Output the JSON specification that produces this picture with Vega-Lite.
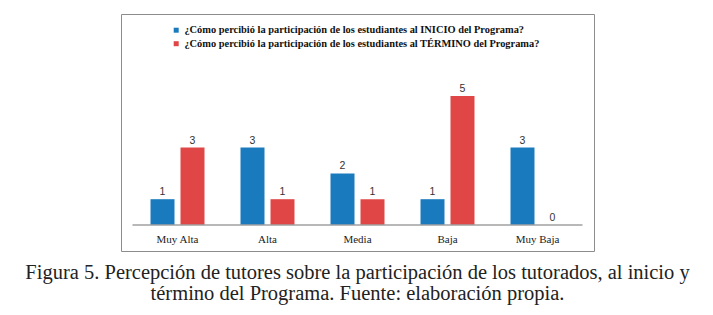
{
  "$schema": "https://vega.github.io/schema/vega-lite/v6.json",
  "autosize": {"type": "none"},
  "width": 473,
  "height": 237,
  "padding": {"left": 121, "top": 14, "right": 119, "bottom": 64},
  "background": "white",
  "config": {"view": {"stroke": "#8c8c8c", "strokeWidth": 1}},
  "title": {
    "text": ["Figura 5. Percepción de tutores sobre la participación de los tutorados, al inicio y", "término del Programa. Fuente: elaboración propia."],
    "orient": "bottom",
    "anchor": "middle",
    "font": "Liberation Serif",
    "fontSize": 20.5,
    "fontWeight": "normal",
    "color": "#222222",
    "lineHeight": 21,
    "offset": 12
  },
  "data": {
    "values": [
      {"nivel": "Muy Alta", "serie": "¿Cómo percibió la participación de los estudiantes al INICIO del Programa?", "valor": 1},
      {"nivel": "Muy Alta", "serie": "¿Cómo percibió la participación de los estudiantes al TÉRMINO del Programa?", "valor": 3},
      {"nivel": "Alta", "serie": "¿Cómo percibió la participación de los estudiantes al INICIO del Programa?", "valor": 3},
      {"nivel": "Alta", "serie": "¿Cómo percibió la participación de los estudiantes al TÉRMINO del Programa?", "valor": 1},
      {"nivel": "Media", "serie": "¿Cómo percibió la participación de los estudiantes al INICIO del Programa?", "valor": 2},
      {"nivel": "Media", "serie": "¿Cómo percibió la participación de los estudiantes al TÉRMINO del Programa?", "valor": 1},
      {"nivel": "Baja", "serie": "¿Cómo percibió la participación de los estudiantes al INICIO del Programa?", "valor": 1},
      {"nivel": "Baja", "serie": "¿Cómo percibió la participación de los estudiantes al TÉRMINO del Programa?", "valor": 5},
      {"nivel": "Muy Baja", "serie": "¿Cómo percibió la participación de los estudiantes al INICIO del Programa?", "valor": 3},
      {"nivel": "Muy Baja", "serie": "¿Cómo percibió la participación de los estudiantes al TÉRMINO del Programa?", "valor": 0}
    ]
  },
  "resolve": {"scale": {"x": "independent"}},
  "layer": [
    {
      "mark": {"type": "bar"},
      "encoding": {
        "x": {
          "field": "nivel", "type": "nominal",
          "sort": ["Muy Alta", "Alta", "Media", "Baja", "Muy Baja"],
          "scale": {"paddingInner": 0, "paddingOuter": 0.1278},
          "axis": {
            "title": null, "orient": "bottom", "offset": -26, "domain": false, "ticks": false,
            "labelAngle": 0, "labelFont": "Liberation Serif", "labelFontSize": 11,
            "labelColor": "#222222", "labelPadding": 8
          }
        },
        "xOffset": {
          "field": "serie", "type": "nominal",
          "scale": {"paddingInner": 0.2, "paddingOuter": 0.6}
        },
        "y": {
          "field": "valor", "type": "quantitative",
          "scale": {"domain": [-1.008, 8.178], "nice": false, "zero": false},
          "axis": null
        },
        "color": {
          "field": "serie", "type": "nominal",
          "scale": {
            "domain": ["¿Cómo percibió la participación de los estudiantes al INICIO del Programa?", "¿Cómo percibió la participación de los estudiantes al TÉRMINO del Programa?"],
            "range": ["#1a7abe", "#e04646"]
          },
          "legend": {
            "title": null, "orient": "none", "legendX": 50, "legendY": 11,
            "symbolType": "square", "symbolSize": 25, "symbolStrokeWidth": 0,
            "labelFont": "Liberation Serif", "labelFontWeight": "bold", "labelFontSize": 10.4,
            "labelColor": "#111111", "labelOffset": 3, "rowPadding": 2.5, "labelLimit": 500
          }
        }
      }
    },
    {
      "mark": {"type": "text", "dy": -7, "font": "Liberation Sans", "fontSize": 10.5, "color": "#333333"},
      "encoding": {
        "x": {
          "field": "nivel", "type": "nominal",
          "sort": ["Muy Alta", "Alta", "Media", "Baja", "Muy Baja"],
          "scale": {"paddingInner": 0, "paddingOuter": 0.1278},
          "axis": null
        },
        "xOffset": {
          "field": "serie", "type": "nominal",
          "scale": {"paddingInner": 0.2, "paddingOuter": 0.6}
        },
        "y": {
          "field": "valor", "type": "quantitative",
          "scale": {"domain": [-1.008, 8.178], "nice": false, "zero": false}
        },
        "text": {"field": "valor", "type": "quantitative"}
      }
    },
    {
      "data": {"values": [{"eje": "x"}]},
      "mark": {"type": "rule", "color": "#a0a0a0", "strokeWidth": 1.5},
      "encoding": {
        "x": {"datum": 0, "type": "quantitative", "scale": {"domain": [-0.1278, 5.1278], "nice": false, "zero": false}, "axis": null},
        "x2": {"datum": 5},
        "y": {"datum": 0, "type": "quantitative", "scale": {"domain": [-1.008, 8.178], "nice": false, "zero": false}}
      }
    }
  ]
}
